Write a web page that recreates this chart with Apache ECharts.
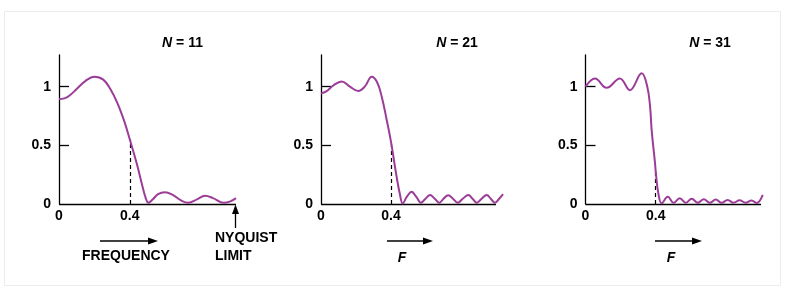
<!DOCTYPE html>
<html><head><meta charset="utf-8">
<script src="https://cdn.jsdelivr.net/npm/echarts@6/dist/echarts.min.js"></script>
<style>html,body{margin:0;padding:0;background:#fff}#c{width:790px;height:297px}</style>
</head><body><div id="c"></div>
<script>
// ---- data ----
const tapCounts = ['11', '21', '31'];
const xLabelValues = [0, 0.4];
const yLabelValues = [0, 0.5, 1];
const yTickValues = [0.5, 1];
const cutoff = 0.4;
const nyquist = 1;
const cutoffLevels = [0.55, 0.53, 0.28];
const curveEnds = [1.0, 1.04, 1.01];
const n11 = [[0,0.895],[0.03,0.9],[0.06,0.925],[0.10,0.98],[0.15,1.05],[0.20,1.085],[0.25,1.06],[0.29,0.98],[0.33,0.86],[0.37,0.70],[0.40,0.55],[0.44,0.34],[0.47,0.16],[0.49,0.05],[0.505,0.01],[0.53,0.04],[0.56,0.085],[0.598,0.10],[0.64,0.08],[0.69,0.03],[0.73,0.01],[0.78,0.04],[0.825,0.07],[0.87,0.05],[0.93,0.01],[0.965,0.02],[1.0,0.05]];
const n21 = [[0,0.943],[0.03,0.96],[0.07,1.01],[0.118,1.045],[0.165,1.0],[0.213,0.963],[0.25,1.0],[0.29,1.085],[0.32,1.04],[0.347,0.915],[0.375,0.72],[0.40,0.53],[0.432,0.233],[0.45,0.09],[0.467,0.005],[0.49,0.06],[0.518,0.105],[0.545,0.06],[0.571,0.01],[0.597,0.045],[0.623,0.077],[0.65,0.045],[0.676,0.01],[0.70,0.045],[0.727,0.075],[0.754,0.045],[0.781,0.01],[0.81,0.045],[0.842,0.077],[0.866,0.045],[0.89,0.01],[0.918,0.045],[0.947,0.077],[0.97,0.045],[0.994,0.01],[1.018,0.045],[1.04,0.085]];
const n31 = [[0,1.0],[0.054,1.07],[0.12,0.99],[0.196,1.07],[0.253,0.97],[0.32,1.114],[0.352,1.0],[0.368,0.83],[0.377,0.63],[0.396,0.35],[0.40,0.28],[0.415,0.09],[0.434,0.006],[0.469,0.062],[0.502,0.01],[0.537,0.05],[0.571,0.01],[0.605,0.045],[0.64,0.01],[0.674,0.04],[0.708,0.01],[0.742,0.038],[0.776,0.01],[0.81,0.035],[0.844,0.01],[0.878,0.032],[0.912,0.01],[0.946,0.03],[0.975,0.008],[1.01,0.078]];
const responses = [n11, n21, n31];

// ---- layout ----
const FONT = "'Liberation Sans', Arial, sans-serif";
const purple = '#9b3d98';
const unitW = [177, 175, 175.5];
const lefts = [59, 321, 585.5];
const titleX = [182.5, 457, 710];

const chart = echarts.init(document.getElementById('c'), null, {renderer: 'canvas'});
const grids = [], xAxes = [], yAxes = [], series = [];
responses.forEach((data, i) => {
  grids.push({left: lefts[i], top: 55, width: unitW[i] * curveEnds[i], height: 149});
  xAxes.push({
    gridIndex: i, type: 'value', min: 0, max: curveEnds[i],
    axisLine: {show: false},
    axisTick: {show: false},
    splitLine: {show: false},
    axisLabel: {customValues: xLabelValues, color: '#000', fontFamily: FONT, fontWeight: 'bold', fontSize: 14, margin: 5,
      formatter: v => String(v)}
  });
  yAxes.push({
    gridIndex: i, type: 'value', min: 0, max: 1.27,
    axisLine: {show: true, lineStyle: {color: '#000', width: 1.3}},
    axisTick: {show: true, inside: true, length: 10, customValues: yTickValues, lineStyle: {color: '#000', width: 1.3}},
    splitLine: {show: false},
    axisLabel: {customValues: yLabelValues, color: '#000', fontFamily: FONT, fontWeight: 'bold', fontSize: 14, margin: 8,
      formatter: v => String(v)}
  });
  series.push({
    type: 'line', xAxisIndex: i, yAxisIndex: i, data: data, smooth: 0.4,
    showSymbol: false, silent: true, z: 3,
    lineStyle: {color: purple, width: 2},
    markLine: {
      silent: true, symbol: 'none', label: {show: false}, z: 2,
      data: [
        [{coord: [cutoff, 0], lineStyle: {color: '#000', type: [4, 3], width: 1.2}}, {coord: [cutoff, cutoffLevels[i]]}],
        [{coord: [0, 0], lineStyle: {color: '#000', type: 'solid', width: 1.3}}, {coord: [nyquist, 0]}]
      ]
    }
  });
});

function arrowH(x1, x2, y) {
  return [
    {type: 'line', shape: {x1: x1, y1: y, x2: x2 - 8, y2: y}, style: {stroke: '#000', lineWidth: 1.3}},
    {type: 'polygon', shape: {points: [[x2, y], [x2 - 10, y - 3.5], [x2 - 10, y + 3.5]]}, style: {fill: '#000'}}
  ];
}
const txt = (t, x, y, extra) => Object.assign({type: 'text', x: x, y: y,
  style: Object.assign({text: t, fill: '#000', font: "bold 14px " + FONT, align: 'center', verticalAlign: 'middle'}, extra || {})});

const graphics = [
  {type: 'rect', shape: {x: 4.5, y: 11.5, width: 776, height: 274}, style: {fill: 'none', stroke: '#ececec', lineWidth: 1}},
  ...tapCounts.map((n, i) => ({type: 'text', x: titleX[i], y: 43, style: {
    text: '{i|N} = ' + n, align: 'center', verticalAlign: 'middle', fill: '#000', font: "bold 14px " + FONT,
    rich: {i: {fontStyle: 'italic', fontWeight: 'bold', fontSize: 14, fontFamily: FONT, fill: '#000'}}
  }})),
  ...arrowH(100, 158, 241),
  ...arrowH(387, 433, 241),
  ...arrowH(655, 702, 241),
  txt('FREQUENCY', 126, 256),
  {type: 'line', shape: {x1: 235.5, y1: 228, x2: 235.5, y2: 212}, style: {stroke: '#000', lineWidth: 1.3}},
  {type: 'polygon', shape: {points: [[235.5, 204.5], [232, 214], [239, 214]]}, style: {fill: '#000'}},
  txt('NYQUIST', 215, 238, {align: 'left'}),
  txt('LIMIT', 215, 256, {align: 'left'}),
  txt('F', 402, 258, {font: "italic bold 14px " + FONT}),
  txt('F', 671, 258, {font: "italic bold 14px " + FONT})
];

chart.setOption({
  animation: false,
  backgroundColor: '#fff',
  grid: grids,
  xAxis: xAxes, yAxis: yAxes, series: series,
  graphic: graphics
});
</script></body></html>
